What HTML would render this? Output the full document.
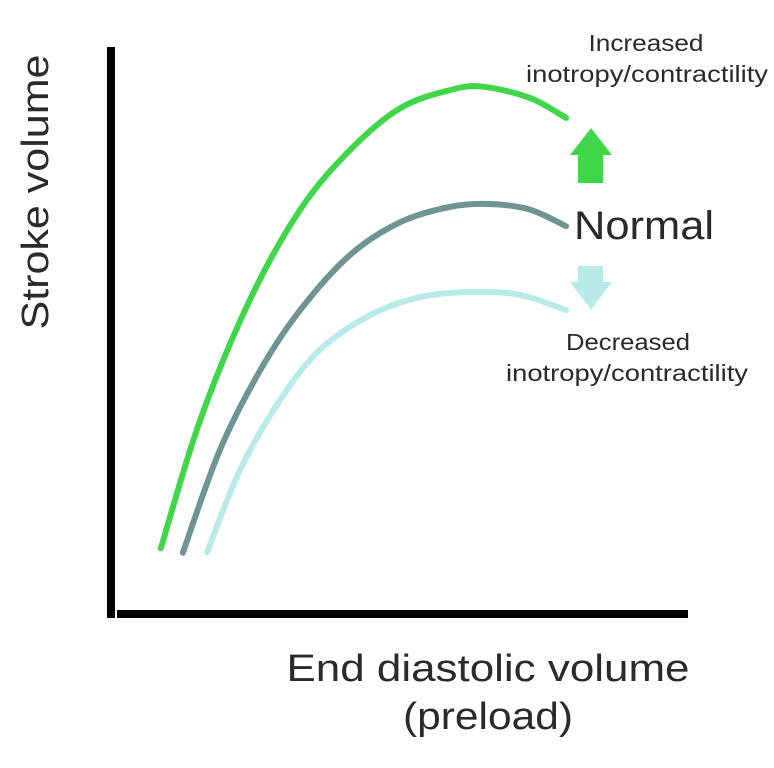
<!DOCTYPE html>
<html><head><meta charset="utf-8"><style>
html,body{margin:0;padding:0;background:#fff;}
svg{display:block;}
text{font-family:"Liberation Sans",sans-serif;fill:#2a2a2a;}
</style></head><body>
<svg id="chart" width="774" height="768" viewBox="0 0 774 768">
  <line x1="111" y1="47" x2="111" y2="618" stroke="#000" stroke-width="8"/>
  <line x1="117" y1="614" x2="688" y2="614" stroke="#000" stroke-width="8"/>
  <text x="48" y="192" font-size="38" text-anchor="middle" textLength="275" lengthAdjust="spacingAndGlyphs" transform="rotate(-90 48 192)">Stroke volume</text>
  <text x="488" y="681" font-size="38" text-anchor="middle" textLength="403" lengthAdjust="spacingAndGlyphs">End diastolic volume</text>
  <text x="488" y="729" font-size="38" text-anchor="middle" textLength="170" lengthAdjust="spacingAndGlyphs">(preload)</text>
  <g id="series"></g>
  <polygon points="570,155 591,128 612,155" fill="#3fd64a"/>
  <rect x="578" y="154" width="25" height="29" fill="#3fd64a"/>
  <rect x="578" y="266" width="25" height="17" fill="#b8eaea"/>
  <polygon points="570,282 591,310 612,282" fill="#b8eaea"/>
  <text x="646" y="51" font-size="23" text-anchor="middle" textLength="115" lengthAdjust="spacingAndGlyphs">Increased</text>
  <text x="647" y="82" font-size="23" text-anchor="middle" textLength="242" lengthAdjust="spacingAndGlyphs">inotropy/contractility</text>
  <text x="644" y="239" font-size="40" text-anchor="middle" textLength="140" lengthAdjust="spacingAndGlyphs">Normal</text>
  <text x="628" y="350" font-size="23" text-anchor="middle" textLength="124" lengthAdjust="spacingAndGlyphs">Decreased</text>
  <text x="627" y="381" font-size="23" text-anchor="middle" textLength="242" lengthAdjust="spacingAndGlyphs">inotropy/contractility</text>
</svg>
<script>
const increasedX = [8.8,15.6,24.2,32.9,41.5,50.2,58.8,64.5,72.7,78.9];
const increasedY = [11.6,34.2,55.4,71.3,81.8,89.2,92.4,93.0,91.0,87.5];
const normalX = [12.6,19.0,26.0,32.9,41.5,50.2,58.8,65.7,72.7,78.9];
const normalY = [10.8,28.9,43.0,53.6,63.3,69.1,71.8,72.3,71.3,68.4];
const decreasedX = [16.8,22.5,29.4,36.3,45.0,53.6,62.3,70.9,78.9];
const decreasedY = [10.9,25.4,37.7,46.6,52.7,55.9,56.8,56.3,53.6];

function sx(v){return 110 + v*5.78;}
function sy(v){return 614 - v*5.67;}
function pathFor(xs, ys){
  const p = xs.map((x,i)=>[sx(x), sy(ys[i])]);
  let d = 'M'+p[0][0]+','+p[0][1];
  for(let i=0;i<p.length-1;i++){
    const p0=p[i-1]||p[i], p1=p[i], p2=p[i+1], p3=p[i+2]||p2;
    const c1=[p1[0]+(p2[0]-p0[0])/6, p1[1]+(p2[1]-p0[1])/6];
    const c2=[p2[0]-(p3[0]-p1[0])/6, p2[1]-(p3[1]-p1[1])/6];
    d+=' C'+c1[0]+','+c1[1]+' '+c2[0]+','+c2[1]+' '+p2[0]+','+p2[1];
  }
  return d;
}
const g = document.getElementById('series');
function addCurve(xs, ys, color, name){
  const el = document.createElementNS('http://www.w3.org/2000/svg','path');
  el.setAttribute('d', pathFor(xs, ys));
  el.setAttribute('fill','none');
  el.setAttribute('stroke',color);
  el.setAttribute('stroke-width','6');
  el.setAttribute('stroke-linecap','round');
  
  
  g.appendChild(el);
}
addCurve(decreasedX, decreasedY, '#b8eaea', 'decreased-curve');
addCurve(normalX, normalY, '#6e9494', 'normal-curve');
addCurve(increasedX, increasedY, '#3fd64a', 'increased-curve');
</script>
</body></html>
